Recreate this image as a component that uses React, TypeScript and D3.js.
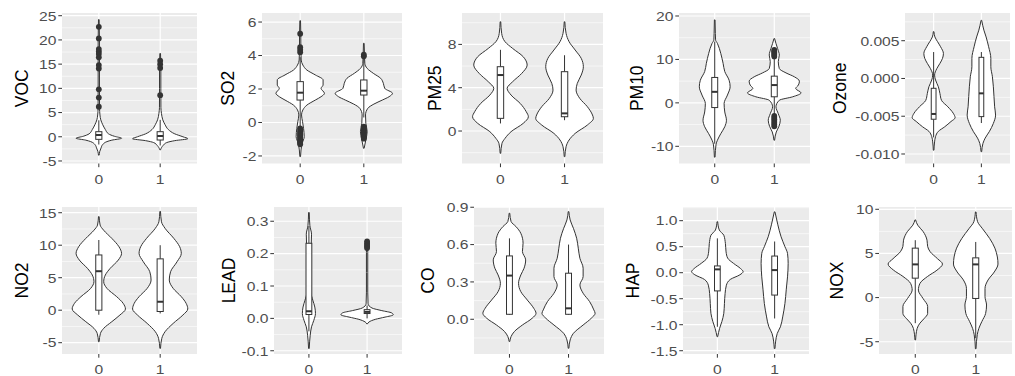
import React from "react";
import * as d3 from "d3";

type Prof = [number, number][];
// box = [lower whisker, q1, median, q3, upper whisker]

const groups = ["0", "1"];

// ---------- VOC ----------
const vocTicks = [-5, 0, 5, 10, 15, 20, 25];
const vocLabels = ["-5", "0", "5", "10", "15", "20", "25"];
const vocDomain = [-5.52, 25.56];
const vocViolin0: Prof = [[24.2, 1], [20, 2], [15, 2], [10, 2], [6, 2.2], [4.5, 3.5], [3.5, 6], [2.5, 12], [1.5, 20], [0.6, 30], [0.1, 48], [-0.3, 70], [-0.7, 40], [-1.0, 25], [-1.6, 12], [-2.3, 7], [-3.0, 3], [-3.8, 1]];
const vocViolin1: Prof = [[17.2, 1], [15, 2], [10, 2], [6, 2.2], [4.8, 4], [3.5, 8], [2.5, 15], [1.5, 25], [0.6, 45], [0, 70], [-0.4, 85], [-0.8, 45], [-1.2, 20], [-1.8, 9], [-2.7, 1]];
const vocBox0 = [-1.6, -0.53, 0.36, 1.05, 3.4];
const vocBox1 = [-1.8, -0.67, 0.16, 1.05, 3.5];
const vocOut0 = [22.7, 20.3, 18.1, 17.6, 17.1, 16.4, 14.8, 14.1, 9.8, 8.1, 6.2];
const vocOut1 = [15.7, 15.0, 14.2, 8.6];

// ---------- SO2 ----------
const so2Ticks = [-2, 0, 2, 4, 6];
const so2Labels = ["-2", "0", "2", "4", "6"];
const so2Domain = [-2.45, 6.54];
const so2Violin0: Prof = [[6.08, 1], [5.32, 1.8], [4.33, 2], [3.73, 3], [3.43, 8], [3.13, 20], [2.84, 45], [2.54, 68], [2.24, 68], [2.04, 62], [1.74, 72], [1.54, 62], [1.34, 45], [1.04, 20], [0.75, 8], [0.45, 4], [0.05, 7], [-0.35, 10], [-0.85, 12], [-1.24, 6], [-1.64, 2.5], [-2.04, 1]];
const so2Violin1: Prof = [[4.73, 1], [4.13, 1.8], [3.53, 3], [3.23, 10], [2.94, 28], [2.64, 50], [2.34, 58], [2.04, 62], [1.74, 85], [1.54, 75], [1.34, 55], [1.1, 30], [0.85, 12], [0.45, 5], [-0.05, 6], [-0.55, 10], [-1.04, 6], [-1.54, 1]];
const so2Box0 = [-0.25, 1.34, 1.78, 2.44, 3.9];
const so2Box1 = [0.3, 1.64, 1.9, 2.54, 3.8];
const so2Out0 = [5.3, 4.5, 4.35, 4.2, -0.35, -0.45, -0.55, -0.62, -0.7, -0.78, -0.85, -0.92, -1.0, -1.08, -1.15, -1.22, -1.3];
const so2Out1 = [3.95, 4.05, -0.25, -0.32, -0.4, -0.47, -0.55, -0.6, -0.67, -0.75, -0.82, -0.9, -0.97];

// ---------- PM25 ----------
const pm25Ticks = [0, 4, 8];
const pm25Labels = ["0", "4", "8"];
const pm25Domain = [-3.0, 10.9];
const pm25Violin0: Prof = [[10.09, 1], [9.02, 4], [8.25, 15], [7.63, 40], [6.86, 75], [6.09, 88], [5.32, 70], [4.55, 40], [3.94, 22], [3.32, 35], [2.55, 65], [1.78, 85], [1.32, 92], [0.71, 75], [-0.06, 35], [-0.68, 15], [-1.14, 5], [-2.06, 1]];
const pm25Violin1: Prof = [[10.09, 1], [9.02, 5], [8.25, 15], [7.48, 35], [6.71, 55], [5.94, 62], [5.17, 55], [4.4, 42], [3.78, 38], [3.02, 50], [2.25, 75], [1.48, 92], [1.17, 95], [0.55, 75], [-0.22, 35], [-0.83, 15], [-1.45, 5], [-2.37, 1]];
const pm25Box0 = [0.7, 1.17, 5.17, 5.94, 7.5];
const pm25Box1 = [1.0, 1.32, 1.63, 5.48, 7.0];
const pm25Out0: number[] = [];
const pm25Out1: number[] = [];

// ---------- PM10 ----------
const pm10Ticks = [-10, 0, 10, 20];
const pm10Labels = ["-10", "0", "10", "20"];
const pm10Domain = [-13.96, 20.69];
const pm10Violin0: Prof = [[19.1, 1], [16, 1.8], [14.5, 2.5], [13.7, 8], [11.4, 18], [9.1, 25], [7.2, 30], [5.2, 43], [3.7, 46], [1.8, 38], [-0.15, 28], [-2.1, 30], [-4.0, 35], [-5.5, 30], [-7.1, 18], [-8.6, 8], [-9.5, 4], [-12.5, 1]];
const pm10Violin1: Prof = [[14.8, 1], [13.7, 5], [12.5, 10], [11.0, 15], [9.5, 12], [7.9, 15], [6.9, 35], [6.0, 60], [5.0, 75], [4.1, 72], [3.3, 64], [2.3, 80], [1.4, 55], [0.6, 15], [-0.9, 5], [-2.5, 12], [-4.0, 18], [-5.4, 14], [-6.7, 6], [-8.6, 1]];
const pm10Box0 = [-9.4, -1.08, 2.54, 5.85, 14.1];
const pm10Box1 = [-2.8, 1.4, 4.1, 6.15, 10.4];
const pm10Out0: number[] = [];
const pm10Out1 = [12.2, 11.9, 11.6, 11.3, 11.0, 10.7, -3.0, -3.4, -3.8, -4.2, -4.6, -5.0, -5.4];

// ---------- Ozone ----------
const ozoneTicks = [-0.01, -0.005, 0, 0.005];
const ozoneLabels = ["-0.010", "-0.005", "0.000", "0.005"];
const ozoneDomain = [-0.01126, 0.00867];
const ozoneViolin0: Prof = [[0.0062, 1], [0.0055, 4], [0.0049, 12], [0.0042, 22], [0.0033, 31], [0.00265, 28], [0.002, 20], [0.0013, 10], [0.00045, 3], [-0.0002, 6], [-0.0011, 15], [-0.002, 20], [-0.0029, 25], [-0.00375, 45], [-0.0046, 62], [-0.0052, 68], [-0.0057, 55], [-0.0064, 35], [-0.007, 15], [-0.0077, 6], [-0.0084, 3], [-0.0095, 1]];
const ozoneViolin1: Prof = [[0.0077, 1], [0.0064, 8], [0.0055, 15], [0.0042, 23], [0.00265, 30], [0.00155, 30], [0.00023, 35], [-0.0011, 38], [-0.0024, 40], [-0.00375, 42], [-0.00485, 45], [-0.00595, 38], [-0.00705, 25], [-0.0079, 12], [-0.0086, 5], [-0.0097, 1]];
const ozoneBox0 = [-0.0078, -0.0054, -0.0047, -0.0013, 0.0035];
const ozoneBox1 = [-0.0059, -0.00505, -0.00197, 0.0028, 0.0035];
const ozoneOut0: number[] = [];
const ozoneOut1: number[] = [];

// ---------- NO2 ----------
const no2Ticks = [-5, 0, 5, 10, 15];
const no2Labels = ["-5", "0", "5", "10", "15"];
const no2Domain = [-6.74, 15.88];
const no2Violin0: Prof = [[14.4, 1], [13.1, 4], [12.3, 15], [11.05, 40], [9.77, 62], [8.74, 70], [7.72, 60], [6.44, 35], [5.41, 20], [4.38, 15], [3.36, 25], [2.08, 55], [1.05, 75], [0.18, 82], [-0.74, 65], [-1.77, 40], [-2.79, 15], [-3.56, 5], [-4.85, 1]];
const no2Violin1: Prof = [[15.2, 1], [13.6, 4], [12.6, 15], [11.05, 42], [9.77, 60], [8.74, 65], [7.46, 52], [5.92, 32], [4.64, 28], [3.36, 40], [2.08, 65], [1.05, 80], [0.18, 85], [-0.74, 70], [-2.03, 40], [-3.31, 15], [-4.33, 5], [-5.87, 1]];
const no2Box0 = [-0.7, 0.0, 6.0, 8.5, 10.8];
const no2Box1 = [-0.5, -0.2, 1.3, 7.9, 10.0];
const no2Out0: number[] = [];
const no2Out1: number[] = [];

// ---------- LEAD ----------
const leadTicks = [-0.1, 0, 0.1, 0.2, 0.3];
const leadLabels = ["-0.1", "0.0", "0.1", "0.2", "0.3"];
const leadDomain = [-0.11, 0.344];
const leadViolin0: Prof = [[0.327, 1], [0.286, 3], [0.26, 8], [0.224, 7], [0.183, 5], [0.132, 5], [0.081, 6], [0.056, 12], [0.035, 18], [0.015, 20], [-0.006, 15], [-0.026, 8], [-0.052, 4], [-0.093, 1]];
const leadViolin1: Prof = [[0.24, 1], [0.204, 2], [0.142, 2], [0.081, 2], [0.045, 3], [0.032, 15], [0.024, 45], [0.017, 75], [0.011, 80], [0.004, 55], [-0.003, 25], [-0.011, 6], [-0.017, 1]];
const leadBox0 = [-0.04, 0.012, 0.022, 0.232, 0.285];
const leadBox1 = [0.0, 0.015, 0.02, 0.027, 0.04];
const leadOut0: number[] = [];
const leadOut1 = [0.238, 0.232, 0.227, 0.222, 0.217];

// ---------- CO ----------
const coTicks = [0, 0.3, 0.6, 0.9];
const coLabels = ["0.0", "0.3", "0.6", "0.9"];
const coDomain = [-0.279, 0.902];
const coViolin0: Prof = [[0.852, 1], [0.785, 5], [0.745, 20], [0.691, 35], [0.611, 42], [0.544, 40], [0.477, 50], [0.41, 45], [0.356, 35], [0.289, 28], [0.222, 35], [0.155, 55], [0.088, 75], [0.048, 82], [0.008, 70], [-0.046, 40], [-0.099, 15], [-0.139, 5], [-0.179, 1]];
const coViolin1: Prof = [[0.865, 1], [0.798, 5], [0.731, 15], [0.651, 25], [0.571, 30], [0.49, 35], [0.41, 45], [0.343, 45], [0.276, 35], [0.209, 45], [0.142, 65], [0.075, 78], [0.048, 82], [0.008, 70], [-0.046, 45], [-0.113, 15], [-0.166, 5], [-0.233, 1]];
const coBox0 = [0.035, 0.04, 0.351, 0.509, 0.65];
const coBox1 = [0.035, 0.04, 0.088, 0.37, 0.6];
const coOut0: number[] = [];
const coOut1: number[] = [];

// ---------- HAP ----------
const hapTicks = [-1.5, -1.0, -0.5, 0, 0.5, 1.0];
const hapLabels = ["-1.5", "-1.0", "-0.5", "0.0", "0.5", "1.0"];
const hapDomain = [-1.563, 1.263];
const hapViolin0: Prof = [[0.98, 1], [0.82, 6], [0.72, 20], [0.56, 25], [0.4, 27], [0.28, 32], [0.18, 50], [0.08, 72], [0.02, 80], [-0.04, 70], [-0.13, 40], [-0.24, 28], [-0.4, 24], [-0.59, 22], [-0.78, 20], [-0.94, 14], [-1.07, 7], [-1.23, 1]];
const hapViolin1: Prof = [[1.17, 1], [0.92, 10], [0.69, 20], [0.5, 32], [0.37, 40], [0.18, 42], [-0.08, 40], [-0.33, 36], [-0.59, 32], [-0.85, 25], [-1.04, 18], [-1.17, 8], [-1.46, 1]];
const hapBox0 = [-1.04, -0.35, 0.064, 0.13, 0.66];
const hapBox1 = [-0.88, -0.43, 0.05, 0.32, 0.6];
const hapOut0: number[] = [];
const hapOut1: number[] = [];

// ---------- NOX ----------
const noxTicks = [-5, 0, 5, 10];
const noxLabels = ["-5", "0", "5", "10"];
const noxDomain = [-6.39, 10.26];
const noxViolin0: Prof = [[8.8, 1], [8.2, 8], [7.5, 25], [6.5, 38], [5.8, 40], [5.2, 48], [4.4, 72], [3.8, 88], [3.1, 70], [2.4, 40], [1.6, 15], [0.85, 10], [-0.1, 25], [-1.0, 40], [-1.8, 40], [-2.4, 28], [-2.9, 15], [-3.5, 6], [-4.8, 1]];
const noxViolin1: Prof = [[9.7, 1], [8.6, 6], [7.8, 22], [6.7, 45], [5.6, 62], [4.6, 70], [3.8, 72], [2.9, 60], [2.0, 40], [1.04, 30], [0.1, 30], [-0.84, 35], [-1.8, 32], [-2.7, 20], [-3.5, 10], [-4.2, 5], [-5.8, 1]];
const noxBox0 = [-2.9, 2.2, 3.76, 5.6, 6.5];
const noxBox1 = [-4.6, -0.1, 3.76, 4.5, 6.3];
const noxOut0: number[] = [];
const noxOut1: number[] = [];

// ---------- layout (positions only) ----------
const ROW1 = { top: 13, bottom: 163.5, labelBase: 184 };
const ROW2 = { top: 207, bottom: 354, labelBase: 373.7 };

const panels = [
  { name: "VOC", ticks: vocTicks, labels: vocLabels, domain: vocDomain, violins: [vocViolin0, vocViolin1], boxes: [vocBox0, vocBox1], outs: [vocOut0, vocOut1], left: 62, right: 197, row: ROW1, titleX: 21.7 },
  { name: "SO2", ticks: so2Ticks, labels: so2Labels, domain: so2Domain, violins: [so2Violin0, so2Violin1], boxes: [so2Box0, so2Box1], outs: [so2Out0, so2Out1], left: 262, right: 402, row: ROW1, titleX: 228 },
  { name: "PM25", ticks: pm25Ticks, labels: pm25Labels, domain: pm25Domain, violins: [pm25Violin0, pm25Violin1], boxes: [pm25Box0, pm25Box1], outs: [pm25Out0, pm25Out1], left: 462, right: 603, row: ROW1, titleX: 435 },
  { name: "PM10", ticks: pm10Ticks, labels: pm10Labels, domain: pm10Domain, violins: [pm10Violin0, pm10Violin1], boxes: [pm10Box0, pm10Box1], outs: [pm10Out0, pm10Out1], left: 679, right: 810, row: ROW1, titleX: 637 },
  { name: "Ozone", ticks: ozoneTicks, labels: ozoneLabels, domain: ozoneDomain, violins: [ozoneViolin0, ozoneViolin1], boxes: [ozoneBox0, ozoneBox1], outs: [ozoneOut0, ozoneOut1], left: 905, right: 1010, row: ROW1, titleX: 840 },
  { name: "NO2", ticks: no2Ticks, labels: no2Labels, domain: no2Domain, violins: [no2Violin0, no2Violin1], boxes: [no2Box0, no2Box1], outs: [no2Out0, no2Out1], left: 62, right: 197, row: ROW2, titleX: 21.7 },
  { name: "LEAD", ticks: leadTicks, labels: leadLabels, domain: leadDomain, violins: [leadViolin0, leadViolin1], boxes: [leadBox0, leadBox1], outs: [leadOut0, leadOut1], left: 274, right: 402, row: ROW2, titleX: 229 },
  { name: "CO", ticks: coTicks, labels: coLabels, domain: coDomain, violins: [coViolin0, coViolin1], boxes: [coBox0, coBox1], outs: [coOut0, coOut1], left: 474, right: 604, row: ROW2, titleX: 428 },
  { name: "HAP", ticks: hapTicks, labels: hapLabels, domain: hapDomain, violins: [hapViolin0, hapViolin1], boxes: [hapBox0, hapBox1], outs: [hapOut0, hapOut1], left: 683, right: 809, row: ROW2, titleX: 633 },
  { name: "NOX", ticks: noxTicks, labels: noxLabels, domain: noxDomain, violins: [noxViolin0, noxViolin1], boxes: [noxBox0, noxBox1], outs: [noxOut0, noxOut1], left: 879, right: 1012, row: ROW2, titleX: 837 },
];

const INK = "#333333";
const FONT = "'Liberation Sans', Arial, sans-serif";

function minorTicks(ticks: number[], domain: number[]) {
  const res: number[] = [];
  const step = ticks[1] - ticks[0];
  const ext = [ticks[0] - step, ...ticks, ticks[ticks.length - 1] + step];
  for (let i = 0; i < ext.length - 1; i++) {
    const m = (ext[i] + ext[i + 1]) / 2;
    if (m >= domain[0] && m <= domain[1]) res.push(m);
  }
  return res;
}

function Panel({ p }: { p: (typeof panels)[number] }) {
  const { top, bottom, labelBase } = p.row;
  const x = d3.scalePoint<string>().domain(groups).range([p.left, p.right]).padding(0.6);
  const step = x.step();
  const y = d3.scaleLinear().domain(p.domain).range([bottom, top]);
  const maxW = d3.max(p.violins.flat(), (d) => d[1]) as number;
  const wScale = d3.scaleLinear().domain([0, maxW]).range([0, 0.45 * step]);
  const minors = minorTicks(p.ticks, p.domain);
  const boxHalf = 0.05 * step;
  const midY = (top + bottom) / 2;

  return (
    <g>
      <rect x={p.left} y={top} width={p.right - p.left} height={bottom - top} fill="#EBEBEB" />
      {minors.map((v, i) => (
        <line key={"mn" + i} x1={p.left} x2={p.right} y1={y(v)} y2={y(v)} stroke="#fff" strokeWidth={0.6} />
      ))}
      {p.ticks.map((v, i) => (
        <line key={"mj" + i} x1={p.left} x2={p.right} y1={y(v)} y2={y(v)} stroke="#fff" strokeWidth={1.2} />
      ))}
      {groups.map((g) => (
        <line key={"vg" + g} x1={x(g)} x2={x(g)} y1={top} y2={bottom} stroke="#fff" strokeWidth={1.2} />
      ))}
      {groups.map((g, gi) => {
        const cx = x(g) as number;
        const area = d3
          .area<[number, number]>()
          .y((d) => y(d[0]))
          .x0((d) => cx - wScale(d[1]))
          .x1((d) => cx + wScale(d[1]))
          .curve(d3.curveMonotoneY);
        const sorted = [...p.violins[gi]].sort((a, b) => b[0] - a[0]);
        const [lo, q1, med, q3, hi] = p.boxes[gi];
        return (
          <g key={"v" + g}>
            <path d={area(sorted) || ""} fill="#fff" stroke={INK} strokeWidth={1} />
            {p.outs[gi].map((v, k) => (
              <circle key={"o" + k} cx={cx} cy={y(v)} r={2.9} fill={INK} />
            ))}
            <line x1={cx} x2={cx} y1={y(q3)} y2={y(hi)} stroke={INK} strokeWidth={1} />
            <line x1={cx} x2={cx} y1={y(q1)} y2={y(lo)} stroke={INK} strokeWidth={1} />
            <rect x={cx - boxHalf} y={y(q3)} width={boxHalf * 2} height={Math.max(0.5, y(q1) - y(q3))} fill="#fff" stroke={INK} strokeWidth={1} />
            <line x1={cx - boxHalf} x2={cx + boxHalf} y1={y(med)} y2={y(med)} stroke={INK} strokeWidth={2} />
          </g>
        );
      })}
      {p.ticks.map((v, i) => (
        <g key={"yt" + i}>
          <line x1={p.left - 3.7} x2={p.left} y1={y(v)} y2={y(v)} stroke={INK} strokeWidth={1} />
          <text
            transform={`translate(${p.left - 5.5},${y(v) + 4.8}) scale(1.15,1)`}
            textAnchor="end"
            fontFamily={FONT}
            fontSize={13.6}
            fill="#4D4D4D"
          >
            {p.labels[i]}
          </text>
        </g>
      ))}
      {groups.map((g) => (
        <g key={"xt" + g}>
          <line x1={x(g)} x2={x(g)} y1={bottom} y2={bottom + 3.7} stroke={INK} strokeWidth={1} />
          <text
            transform={`translate(${x(g)},${labelBase}) scale(1.15,1)`}
            textAnchor="middle"
            fontFamily={FONT}
            fontSize={13.6}
            fill="#4D4D4D"
          >
            {g}
          </text>
        </g>
      ))}
      <text
        transform={`translate(${p.titleX + 6.2},${midY}) rotate(-90)`}
        textAnchor="middle"
        fontFamily={FONT}
        fontSize={17.5}
        fill="#000"
      >
        {p.name}
      </text>
    </g>
  );
}

export default function App() {
  return (
    <svg
      width={1015}
      height={376}
      style={{ position: "absolute", left: 0, top: 0, background: "#fff" }}
    >
      <rect x={0} y={0} width={1015} height={376} fill="#fff" />
      {panels.map((p) => (
        <Panel key={p.name} p={p} />
      ))}
    </svg>
  );
}
